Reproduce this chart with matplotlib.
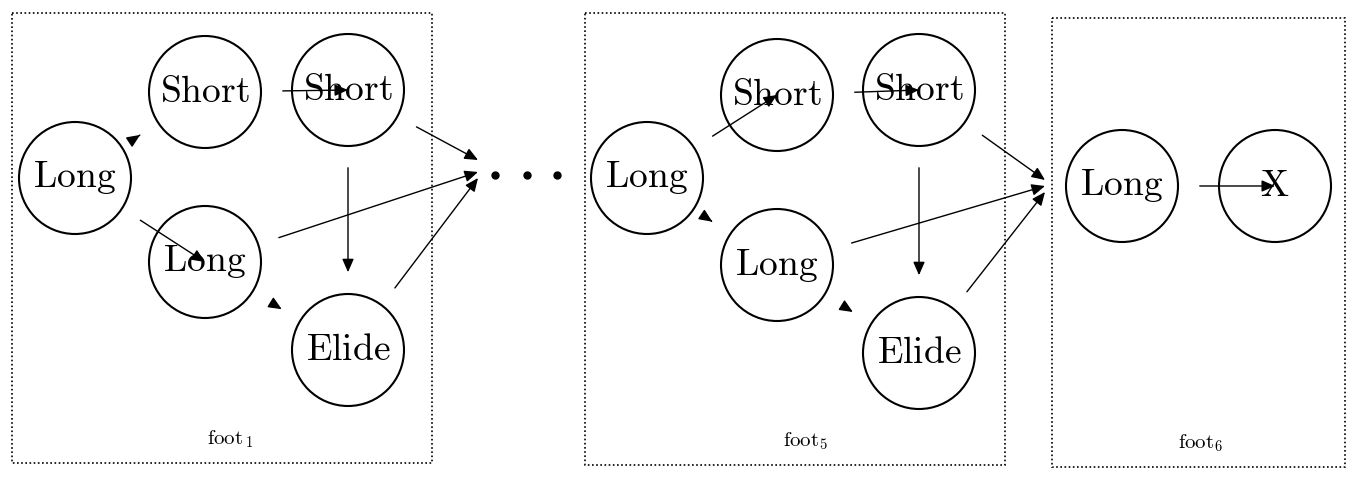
import matplotlib
matplotlib.use('Agg')
import matplotlib.pyplot as plt
from matplotlib.patches import Circle, Rectangle, FancyArrowPatch

plt.rcParams['mathtext.fontset'] = 'cm'

# nodes: name, label, x, y (pixel coords, y from top)
node_names = ['L1', 'S1', 'S2', 'L2', 'E1', 'L3', 'S3', 'S4', 'L4', 'E2', 'L5', 'X']
node_labels = ['Long', 'Short', 'Short', 'Long', 'Elide', 'Long', 'Short', 'Short', 'Long', 'Elide', 'Long', 'X']
node_x = [75, 205, 348, 205, 348, 647, 777, 919, 777, 919, 1122, 1275]
node_y = [178, 92, 90, 262, 350, 178, 95, 90, 265, 353, 186, 186]
radius = 56

edges = [('L1', 'S1'), ('L1', 'L2'), ('S1', 'S2'), ('S2', 'E1'), ('L2', 'E1'),
         ('L3', 'S3'), ('L3', 'L4'), ('S3', 'S4'), ('S4', 'E2'), ('L4', 'E2'),
         ('L5', 'X')]
# edges going out to a point
out_edges = [('S2', 478, 160), ('L2', 478, 172), ('E1', 478, 178),
             ('S4', 1045, 180), ('L4', 1045, 186), ('E2', 1045, 192)]

boxes = [(12, 13, 432, 463), (585, 13, 1005, 465), (1052, 18, 1345, 467)]
box_labels = [r'$\mathrm{foot}_{\,1}$', r'$\mathrm{foot}_{5}$', r'$\mathrm{foot}_{6}$']
box_label_x = [230, 805, 1200]
dots_x = [495, 527, 557]

fig = plt.figure(figsize=(13.6, 4.83), dpi=100)
ax = fig.add_axes([0, 0, 1, 1])
ax.set_xlim(0, 1360)
ax.set_ylim(483, 0)
ax.axis('off')

pos = {n: (x, y) for n, x, y in zip(node_names, node_x, node_y)}

for (x0, y0, x1, y1), lab, lx in zip(boxes, box_labels, box_label_x):
    ax.add_patch(Rectangle((x0, y0), x1 - x0, y1 - y0, fill=False, ls=(0, (1, 1.5)), lw=1.2, color='black'))
    ax.text(lx, y1 - 24, lab, ha='center', va='center', fontsize=15)

for n, lab in zip(node_names, node_labels):
    x, y = pos[n]
    ax.add_patch(Circle((x, y), radius, fill=False, lw=1.5, color='black'))
    ax.text(x, y, r'$\mathrm{%s}$' % lab, ha='center', va='center', fontsize=27)

def arrow(p, q, shrinkB):
    a = FancyArrowPatch(p, q, arrowstyle='-|>,head_length=8,head_width=3.5', mutation_scale=1,
                        shrinkA=radius, shrinkB=shrinkB, lw=1.0, color='black')
    ax.add_patch(a)

for a, b in edges:
    arrow(pos[a], pos[b], radius)
for a, x, y in out_edges:
    arrow(pos[a], (x, y), 0)

ax.plot(dots_x, [175] * len(dots_x), 'o', color='black', ms=5)

fig.savefig('out.png', dpi=100)
